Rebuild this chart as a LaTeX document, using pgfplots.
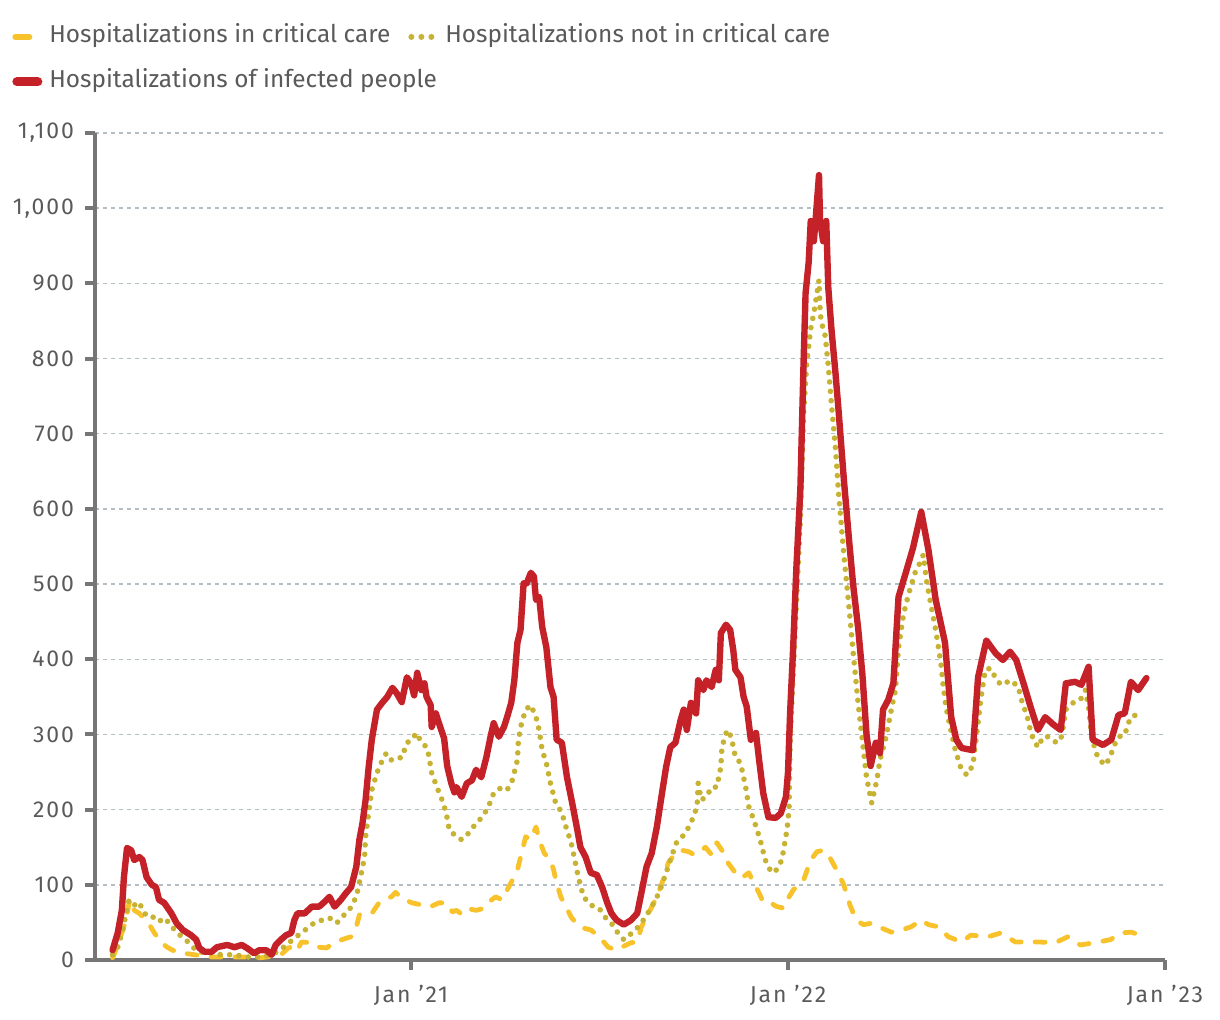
\documentclass[border=0pt]{standalone}
\usepackage{fontspec}
\setmainfont{Fira Sans}
\newfontfamily\tickfont{Fira Sans}[LetterSpace=8]
\usepackage{pgfplots}
\pgfplotsset{compat=1.18}
\definecolor{critc}{HTML}{F8C22A}
\definecolor{notc}{HTML}{C6B233}
\definecolor{infc}{HTML}{C42129}
\definecolor{axc}{HTML}{767676}
\definecolor{gridc}{HTML}{B4BFC5}
\definecolor{txtc}{HTML}{5A5A5A}
\begin{document}
\begin{tikzpicture}
\useasboundingbox (-47.5pt,-30pt) rectangle (562.5pt,480pt);
\begin{axis}[
  scale only axis, width=535pt, height=413.5pt,
  xmin=-306, xmax=730, ymin=0, ymax=1100,
  axis x line*=bottom, axis y line*=left,
  axis line style={axc, line width=2pt},
  xtick={0,365,730}, xticklabels={Jan ’21,Jan ’22,Jan ’23},
  ytick={0,100,...,1100},
  scaled y ticks=false,
  tick style={axc, line width=2pt},
  major tick length=5pt,
  tick align=outside,
  ymajorgrids,
  grid style={gridc, line width=0.7pt, dash pattern=on 2pt off 2pt},
  ticklabel style={font=\tickfont\fontsize{11.5}{14}\selectfont, text=txtc},
  /pgf/number format/assume math mode=true,
  /pgf/number format/1000 sep={,},
  yticklabel style={xshift=-2pt},
  xticklabel style={yshift=-4pt},
  clip=false,
  legend columns=2,
  legend cell align=left,
  legend style={draw=none, fill=none, inner sep=0pt,
    at={(axis description cs:-0.0776,1.136)}, anchor=north west,
    font=\fontsize{12.2}{14}\selectfont, text=txtc,
    row sep=6.5pt,
    nodes={text height=9pt, text depth=3pt, inner sep=2pt},
    /tikz/every even column/.append style={column sep=7pt}},
]
\addlegendimage{legend image code/.code={\path[draw=none,fill=none] (0pt,-2pt) rectangle (16.5pt,2pt); \draw[critc, line width=3pt, line cap=round] (1.5pt,0pt) -- (8.5pt,0pt);}}
\addlegendentry{Hospitalizations in critical care}
\addlegendimage{legend image code/.code={\path[draw=none,fill=none] (0pt,-2pt) rectangle (16.5pt,2pt); \draw[notc, line width=3pt, line cap=round, dash pattern=on 0pt off 5pt] (1.5pt,0pt) -- (12pt,0pt);}}
\addlegendentry{Hospitalizations not in critical care}
\addlegendimage{legend image code/.code={\path[draw=none,fill=none] (0pt,-2pt) rectangle (16.5pt,2pt); \draw[infc, line width=4.5pt, line cap=round] (2.25pt,0pt) -- (12.75pt,0pt);}}
\addlegendentry{\rlap{Hospitalizations of infected people}\phantom{Hospitalizations in critical care}}

\addplot[critc, line width=2.4pt, line cap=round, line join=round, dash pattern=on 5pt off 7pt, forget plot] coordinates {
(-289,3)(-287,9)(-280,36)(-276,53)(-273,76)(-270,80)(-268,66)(-263,62)(-255,51)(-249,37)(-242,23)(-236,17)(-231,13)(-220,9)(-210,7)(-193,4)(-178,4)(-161,4)(-145,3)(-126,7)(-118,17)(-111,11)(-106,24)(-97,23)(-89,17)(-82,16)(-74,23)(-67,27)(-58,31)(-53,44)(-50,60)(-44,62)(-38,62)(-31,76)(-24,82)(-19,84)(-15,90)(-9,82)(1,76)(11,73)(19,71)(27,76)(34,76)(40,64)(44,66)(48,62)(53,69)(63,66)(71,69)(75,77)(82,84)(88,80)(93,93)(98,106)(103,120)(107,142)(111,164)(116,160)(121,177)(124,160)(129,142)(135,133)(138,120)(141,102)(145,84)(150,71)(155,57)(160,49)(165,43)(174,40)(182,31)(191,17)(199,13)(204,17)(213,23)(219,24)(223,44)(230,62)(238,84)(245,110)(249,129)(256,142)(262,146)(269,144)(274,140)(278,142)(285,150)(291,140)(296,156)(303,142)(307,129)(314,116)(320,109)(327,116)(332,102)(337,89)(341,77)(348,76)(354,71)(361,69)(366,84)(370,93)(380,106)(387,133)(393,144)(399,146)(404,140)(412,120)(419,100)(425,73)(431,53)(438,47)(446,49)(453,44)(465,37)(475,40)(484,44)(494,53)(501,47)(511,44)(520,31)(533,24)(542,33)(559,31)(571,36)(585,24)(595,24)(607,24)(624,23)(636,31)(648,20)(662,23)(677,27)(688,36)(697,37)(707,33)
};
\addplot[notc, line width=2.8pt, line cap=round, line join=round, dash pattern=on 0pt off 4.7pt, forget plot] coordinates {
(-289,7)(-284,17)(-279,40)(-276,62)(-273,80)(-268,73)(-263,77)(-260,66)(-255,57)(-249,57)(-244,51)(-239,56)(-234,49)(-229,40)(-222,31)(-215,23)(-207,11)(-193,9)(-184,7)(-171,7)(-159,4)(-145,4)(-132,9)(-128,13)(-120,20)(-115,27)(-105,37)(-99,44)(-92,51)(-86,53)(-79,56)(-72,49)(-67,57)(-60,66)(-53,84)(-48,116)(-45,137)(-44,164)(-41,196)(-38,226)(-33,249)(-29,262)(-24,275)(-19,266)(-15,269)(-9,269)(-4,289)(1,293)(5,302)(10,290)(15,283)(17,273)(20,249)(25,230)(30,213)(34,196)(37,173)(44,164)(49,160)(56,169)(63,182)(69,190)(75,204)(80,222)(87,229)(93,226)(98,239)(103,266)(104,293)(107,315)(111,333)(116,339)(121,323)(124,306)(127,279)(131,262)(135,235)(140,209)(146,196)(150,177)(155,156)(158,137)(162,110)(167,84)(174,73)(182,69)(189,55)(194,49)(198,40)(206,27)(214,36)(220,44)(227,57)(233,71)(240,89)(247,116)(251,133)(257,156)(266,169)(272,186)(277,204)(278,235)(281,213)(286,217)(291,230)(296,230)(300,257)(301,283)(306,306)(310,297)(314,270)(319,262)(324,230)(327,204)(332,186)(338,160)(343,133)(349,116)(354,120)(359,133)(364,173)(366,200)(367,290)(370,380)(373,470)(377,587)(380,724)(383,792)(387,840)(390,860)(393,887)(395,904)(396,867)(397,850)(401,830)(404,790)(407,740)(411,680)(414,620)(419,540)(424,470)(428,410)(433,340)(438,280)(441,243)(446,209)(451,239)(454,266)(460,297)(465,333)(469,359)(472,416)(477,461)(482,488)(488,515)(493,529)(496,539)(499,505)(503,475)(508,439)(513,395)(515,368)(518,336)(522,310)(527,279)(532,257)(538,246)(544,259)(547,293)(552,350)(556,386)(561,388)(566,375)(571,366)(581,372)(588,363)(591,346)(595,330)(598,317)(600,302)(604,290)(607,283)(612,297)(617,297)(625,289)(629,293)(631,306)(634,333)(641,342)(648,346)(653,359)(656,336)(659,297)(662,282)(665,269)(672,259)(677,270)(680,283)(685,297)(691,299)(694,313)(697,323)(702,326)(707,333)
};
\addplot[infc, line width=3.2pt, line cap=round, line join=round, forget plot] coordinates {
(-289,13)(-284,36)(-280,66)(-278,110)(-275,149)(-271,146)(-268,133)(-263,137)(-260,133)(-256,110)(-251,100)(-247,97)(-244,80)(-239,76)(-232,62)(-227,49)(-221,40)(-213,33)(-208,27)(-205,16)(-200,11)(-193,11)(-188,17)(-178,20)(-171,17)(-164,20)(-159,16)(-152,9)(-147,13)(-140,13)(-135,7)(-131,20)(-126,27)(-121,33)(-116,36)(-113,53)(-110,62)(-103,62)(-96,71)(-89,71)(-84,77)(-79,84)(-74,71)(-68,80)(-63,89)(-58,97)(-53,124)(-50,160)(-47,182)(-44,213)(-41,257)(-38,293)(-33,333)(-28,342)(-23,350)(-18,362)(-14,355)(-9,343)(-4,376)(0,368)(3,352)(6,382)(10,359)(13,368)(15,350)(19,339)(20,310)(24,328)(27,315)(32,295)(35,258)(39,235)(42,223)(44,230)(49,217)(54,235)(59,239)(63,253)(68,243)(73,270)(77,297)(80,315)(85,297)(90,310)(93,323)(97,342)(100,372)(103,422)(106,439)(109,501)(112,501)(116,515)(119,510)(121,479)(124,483)(127,443)(131,416)(135,363)(138,350)(141,293)(146,289)(151,243)(156,209)(161,173)(164,150)(169,137)(174,116)(180,113)(185,97)(190,76)(194,62)(199,53)(206,47)(213,53)(219,62)(223,89)(228,124)(233,142)(238,177)(243,222)(247,257)(251,283)(256,289)(261,319)(264,333)(267,306)(271,342)(276,328)(278,372)(283,359)(286,372)(291,363)(295,386)(298,372)(300,435)(305,446)(309,439)(312,412)(314,386)(319,376)(322,350)(325,337)(329,293)(334,302)(337,266)(341,222)(346,190)(353,189)(358,195)(363,217)(365,250)(367,328)(370,416)(373,519)(377,628)(380,792)(382,887)(385,928)(387,983)(390,956)(392,990)(395,1044)(396,983)(399,956)(402,983)(404,894)(407,840)(411,780)(414,730)(419,640)(424,560)(428,500)(433,440)(437,380)(441,300)(445,258)(450,289)(454,275)(457,333)(462,346)(467,368)(472,483)(479,515)(486,548)(494,596)(501,545)(508,479)(517,422)(523,323)(528,293)(533,282)(544,279)(549,376)(557,425)(566,408)(573,399)(580,410)(586,399)(593,368)(600,336)(607,306)(614,323)(622,313)(629,306)(634,368)(643,370)(649,366)(656,390)(660,293)(670,286)(678,293)(685,326)(691,328)(697,370)(704,359)(712,375)
};
\end{axis}
\end{tikzpicture}
\end{document}
